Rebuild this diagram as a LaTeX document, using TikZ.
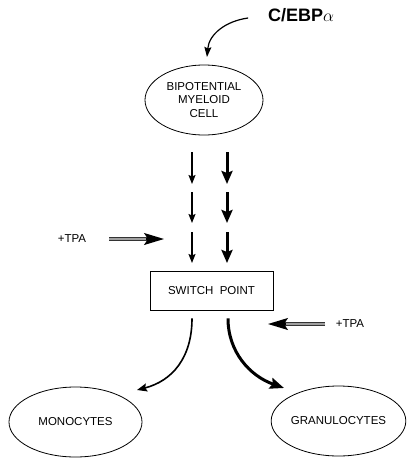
\documentclass[tikz,border=0pt]{standalone}
\usepackage{fontspec}
\setmainfont{Liberation Sans}
\usetikzlibrary{arrows.meta,shapes.geometric}

\tikzset{
	cell/.style={draw, ellipse, line width=0.8pt, inner sep=0pt, align=center, font=\fontsize{11.5}{13.5}\selectfont},
	thinflow/.style={line width=1.2pt, -{Stealth[length=9pt,width=7pt,inset=1.5pt]}},
	thickflow/.style={line width=3pt, -{Stealth[length=13pt,width=11pt,inset=2pt]}},
	tpashaft/.style={draw=black!80, double=gray!75, line width=0.8pt, double distance=2pt, shorten >=14pt},
	tpahead/.style={line width=1.5pt, -{Stealth[length=20pt,width=12pt,inset=4pt]}},
	tag/.style={inner sep=0.75pt, font=\fontsize{11.5}{13}\selectfont}
}

\begin{document}
\begin{tikzpicture}[x=1pt,y=1pt,yscale=-1,xscale=1]
		\useasboundingbox (0,0) rectangle (410,464);

		% The factor C/EBPa and the bipotential cell
		\node[inner sep=0.75pt, font=\fontsize{18}{20}\selectfont\bfseries] (cebpa) at (301,15) {C/EBP$\alpha$};
		\node[cell, minimum width=118, minimum height=70] (bipot) at (204,100) {BIPOTENTIAL\\MYELOID\\CELL};
		\coordinate (cebpaEnd) at (207,57);
		\draw[line width=1.2pt, -{Stealth[length=10pt,width=7pt,inset=1.5pt]}] (cebpa.west) ++(-19,3) .. controls (226,21) and (209,34) .. (cebpaEnd);

		% The switch point box
		\node[draw, line width=0.8pt, minimum width=123, minimum height=39, tag] (switch) at (211.5,290.5) {SWITCH\ \ POINT};

		% The three rows of thin and thick arrows down to the switch point
		\coordinate (a1) at (192,152); \coordinate (a2) at (192,184);
		\coordinate (a3) at (192,192); \coordinate (a4) at (192,223);
		\coordinate (a5) at (192,232); \coordinate (a6) at (192,263);
		\coordinate (b1) at (227,152); \coordinate (b2) at (227,184);
		\coordinate (b3) at (227,192); \coordinate (b4) at (227,223);
		\coordinate (b5) at (227,232); \coordinate (b6) at (227,263);
		\draw[thinflow] (a1) -- (a2);
		\draw[thinflow] (a3) -- (a4);
		\draw[thinflow] (a5) -- (a6);
		\draw[thickflow] (b1) -- (b2);
		\draw[thickflow] (b3) -- (b4);
		\draw[thickflow] (b5) -- (b6);

		% The +TPA signals
		\node[tag] (tpaleft) at (72,239) {+TPA};
		\coordinate (tpaleftNeck) at (146,239);
		\coordinate (tpaleftEnd) at (164,239);
		\draw[tpashaft] (109,239) -- (tpaleftEnd);
		\draw[tpahead] (tpaleftNeck) -- (tpaleftEnd);
		\node[tag] (tparight) at (350,324) {+TPA};
		\coordinate (tparightNeck) at (286,324);
		\coordinate (tparightEnd) at (268,324);
		\draw[tpashaft] (325,324) -- (tparightEnd);
		\draw[tpahead] (tparightNeck) -- (tparightEnd);

		% The two fates
		\node[cell, minimum width=133, minimum height=70] (mono) at (75.5,422) {MONOCYTES};
		\node[cell, minimum width=133, minimum height=70] (granulo) at (338.5,421) {GRANULOCYTES};
		\coordinate (monoEnd) at (137,390);
		\coordinate (granuloEnd) at (284,388);
		\draw[line width=1.6pt, -{Stealth[length=10pt,width=8pt,inset=1.5pt]}] (switch.south) ++(-19.5,8) .. controls (192,358) and (172,381) .. (monoEnd);
		\draw[line width=3pt, -{Stealth[length=14pt,width=11pt,inset=2pt]}] (switch.south) ++(16.5,8) .. controls (228,352) and (250,376) .. (granuloEnd);
	\end{tikzpicture}
\end{document}
